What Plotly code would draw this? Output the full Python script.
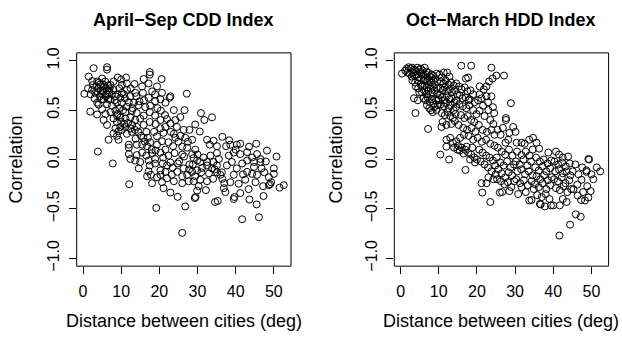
import plotly.graph_objects as go

# ---------------- data ----------------
cdd_points = [
(2.8,0.925),(6.3,0.935),(6.3,0.91),(1.5,0.84),(0.35,0.665),(1.9,0.485),(3.7,0.456),(3.9,0.08),(7.8,-0.04),(6.7,0.20),(12.1,-0.25),
(9.1,0.83),(11.3,0.83),(13.5,0.765),(15.9,0.815),(17.5,0.885),(17.5,0.86),(19.4,0.74),(20.6,0.815),(27.2,0.667),(26.6,0.50),(30.9,0.47),
(33.8,0.427),(31.8,0.40),(29.4,0.355),(23.8,0.50),(22.7,0.625),(30.6,0.283),
(19.2,-0.49),(26.8,-0.475),(26.0,-0.743),(24.8,-0.378),(22.9,-0.335),(21.1,-0.29),(29.3,-0.39),(29.5,-0.38),(32.2,-0.31),(34.6,-0.43),
(35.3,-0.42),(39.5,-0.40),(39.7,-0.38),(41.7,-0.605),(46.1,-0.585),(43.6,-0.405),(45.5,-0.455),(47.3,-0.37),(51.5,-0.285),(52.6,-0.26),
(50.7,0.03),(48.2,0.09),(45.4,0.16),(43.5,0.13),(41.2,0.16),(36.5,0.23),(34.2,0.19),(32.5,0.20),(38.3,0.195),(47.9,-0.02),(50.0,-0.145),
(48.7,-0.26),(49.0,-0.25),(47.2,-0.27),(45.2,-0.23),(43.4,-0.30),(41.2,-0.34),(37.3,-0.33),(36.9,-0.29),(38.6,-0.23),(40.8,-0.245),
(41.7,-0.04),(46.5,-0.025),(46.8,-0.09),(44.3,-0.145),(45.6,-0.155),(47.5,-0.13),
(38.2,0.04),(39.5,0.07),(40.0,0.10),(40.3,0.15),(37.5,0.135),(35.6,0.005),(34.2,-0.025),(32.5,-0.025),(31.6,0.02),(30.7,-0.025),
(33.8,-0.09),(35.1,-0.13),(36.4,-0.13),(34.1,-0.195),(36.5,-0.195),(37.0,-0.24),
(28.6,-0.125),(27.3,-0.155),(26.0,-0.17),(24.7,-0.125),(23.3,-0.155),(22.0,-0.19),(20.3,-0.11),(19.4,-0.18),(17.8,-0.155),(17.2,-0.12),
(16.8,-0.17),(14.6,-0.09),(15.0,-0.025),(17.2,-0.01),(17.5,-0.06),(18.9,-0.04),(20.9,-0.04),(22.9,-0.03),(24.8,-0.04),(26.4,-0.09),
(27.9,-0.05),(29.9,-0.01),(29.0,0.015),(28.6,0.055),(29.4,0.10),(27.3,0.12),(26.0,0.13),(27.5,0.18),(26.8,0.22),(25.5,0.24),(23.8,0.26),
(24.2,0.22),(22.4,0.175),(23.6,0.135),(24.0,0.065),(22.4,0.04),(21.6,0.10),(20.3,0.07),(18.9,0.005),(18.1,0.065),(16.6,0.04),(15.5,0.07),
(14.1,0.045),(13.7,-0.01),(12.4,0.005),(12.0,0.055),(12.0,0.12),(14.1,0.15),(15.5,0.15),(16.8,0.135),(17.6,0.175),(19.4,0.15),(20.7,0.185),
(19.4,0.235),(21.1,0.27),(20.3,0.315),(18.6,0.28),(16.6,0.28),(15.2,0.24),(13.8,0.21),(12.0,0.15),(9.3,0.20),(8.9,0.24),(10.2,0.30),
(11.5,0.26),(12.8,0.28),(14.1,0.33),(15.9,0.35),(17.5,0.38),(19.0,0.36),(20.3,0.40),(22.0,0.41),(22.9,0.365),(21.6,0.33),(24.6,0.33),
(25.5,0.43),(24.2,0.40),(20.4,0.495),(18.9,0.445),(17.5,0.48),(15.9,0.445),(16.3,0.53),(17.6,0.545),(18.9,0.59),(20.3,0.61),(21.6,0.575),
(22.9,0.64),(20.7,0.675),(18.9,0.66),(17.2,0.625),(15.7,0.675),(14.8,0.59),(13.3,0.575),(12.4,0.64),(13.7,0.675),(15.5,0.74),(17.2,0.77),
(18.1,0.69),(11.5,0.705),(10.2,0.675),(9.8,0.625),(10.2,0.575),(11.5,0.535),(12.8,0.495),(14.1,0.47),(15.0,0.415),(13.7,0.40),(12.4,0.425),
(11.1,0.415),(9.8,0.425),(8.9,0.38),(8.0,0.415),(7.2,0.48),(7.6,0.545),(8.5,0.495),(8.9,0.445),(11.1,0.48),(9.8,0.33),(11.1,0.33),
(12.4,0.315),(9.3,0.285),(8.5,0.315),(8.0,0.265),(5.4,0.40),(6.3,0.35),(5.9,0.46),(5.0,0.51),(4.1,0.555),(6.3,0.56),(6.7,0.61),(5.4,0.61),
(4.4,0.64),(3.2,0.675),(2.4,0.705),(3.5,0.74),(4.5,0.76),(5.8,0.79),(7.2,0.755),(8.0,0.705),(7.6,0.66),(8.5,0.64),(8.9,0.575),(8.0,0.79),
(5.0,0.82),(3.7,0.79),(2.4,0.795),(2.6,0.755),(3.8,0.69),(5.2,0.69),(6.3,0.66),(7.2,0.61),(4.8,0.61),(3.7,0.575),(10.2,0.755),(11.5,0.77),
(10.7,0.66),
(50.0,-0.09),(48.7,-0.18),(49.3,-0.23),(42.5,-0.205),(43.0,-0.125),(41.9,-0.15),(39.5,-0.155),(40.3,-0.09),(37.7,-0.06),(39.0,-0.025),
(43.0,-0.01),(44.3,0.02),(44.8,-0.075),(43.0,0.075),(41.2,0.055),(45.6,0.055),(46.5,0.005),(44.8,-0.025),(38.6,0.15),(35.1,0.135),
(33.2,0.15),(35.1,0.065),(33.4,0.04),(32.5,-0.06),(31.2,-0.085),(29.9,-0.11),(29.4,-0.17),(30.7,-0.205),(32.5,-0.22),(30.3,-0.27),
(29.0,-0.22),(27.7,-0.22),(26.0,-0.24),(23.8,-0.22),(20.7,-0.23),(18.1,-0.24),(20.3,-0.155),(21.6,-0.125),(29.9,-0.315),(36.0,-0.155),
(35.1,-0.06),(27.9,0.30),(28.6,0.20),(26.4,0.30),
(4.0,0.72),(4.6,0.70),(5.5,0.74),(6.0,0.72),(6.8,0.70),(5.0,0.66),(6.0,0.64),(6.9,0.68),(4.2,0.78),(5.3,0.76),(6.5,0.75),(7.0,0.72),
(8.3,0.60),(9.5,0.52),(10.5,0.50),(9.0,0.46),(10.0,0.38),(10.8,0.36),(11.8,0.37),(12.9,0.35),(13.6,0.30),(14.5,0.28),(15.8,0.22),
(16.2,0.18),(17.0,0.22),(18.0,0.10),(19.0,0.09),(21.0,0.02),(22.0,-0.06),(23.5,-0.08),(25.2,-0.02),(26.5,0.03),(27.8,-0.1),(28.8,-0.05),
(30.0,0.05),(31.0,-0.13),(33.0,-0.14),(34.5,-0.1),(9.5,0.72),(9.0,0.66),(12.0,0.58),(13.0,0.52),(14.5,0.55),(16.0,0.60),(19.5,0.52),
(21.5,0.45),(23.0,0.28),(25.0,0.18),(26.0,0.05),(10.0,0.81),(12.5,0.72),(14.0,0.64),(11.0,0.62),(3.0,0.62),(2.0,0.66),(1.3,0.72),
]

hdd_points = [
(0.35,0.87),(1.2,0.9),(1.6,0.92),(2.1,0.935),(2.6,0.92),(3.0,0.93),(3.4,0.91),(1.8,0.88),(2.4,0.87),(3.2,0.88),(3.9,0.9),(4.4,0.93),
(4.8,0.91),(2.9,0.84),(3.6,0.85),(4.2,0.86),(4.7,0.83),(3.1,0.8),(3.8,0.78),(4.5,0.8),(4.0,0.74),(4.6,0.72),(3.5,0.62),(4.5,0.6),
(3.9,0.47),(4.9,0.68),
(5.3,0.92),(5.8,0.9),(6.3,0.93),(6.8,0.89),(5.5,0.87),(6.1,0.85),(6.6,0.86),(7.2,0.88),(7.6,0.84),(8.1,0.86),(8.5,0.85),(9.4,0.87),
(5.4,0.82),(6.0,0.8),(6.5,0.81),(7.0,0.79),(7.5,0.81),(8.0,0.78),(8.6,0.8),(9.1,0.82),(9.6,0.79),(5.2,0.76),(5.7,0.74),(6.3,0.75),
(6.9,0.73),(7.4,0.76),(7.9,0.72),(8.4,0.74),(9.0,0.76),(9.5,0.72),(5.6,0.68),(6.2,0.7),(6.8,0.66),(7.3,0.69),(7.8,0.66),(8.3,0.68),
(8.9,0.7),(9.7,0.67),(6.0,0.62),(6.6,0.6),(7.1,0.63),(7.7,0.58),(8.2,0.61),(8.7,0.57),(9.3,0.6),(9.9,0.62),(6.9,0.55),(7.5,0.52),
(8.0,0.5),(8.8,0.53),(9.4,0.5),(9.8,0.55),(7.2,0.31),(8.4,0.48),
(10.2,0.86),(10.8,0.83),(11.3,0.88),(12.2,0.88),(12.8,0.84),(10.5,0.79),(11.2,0.77),(11.8,0.8),(12.5,0.76),(13.2,0.78),(13.9,0.75),
(14.6,0.77),(10.4,0.72),(11.0,0.7),(11.6,0.73),(12.2,0.69),(12.9,0.71),(13.5,0.68),(14.2,0.7),(14.8,0.66),(10.3,0.65),(10.9,0.63),
(11.5,0.6),(12.1,0.64),(12.8,0.61),(13.4,0.62),(14.1,0.58),(14.7,0.6),(10.6,0.56),(11.3,0.54),(11.9,0.57),(12.6,0.52),(13.2,0.55),
(13.9,0.5),(14.5,0.53),(10.8,0.47),(11.6,0.45),(12.3,0.48),(13.0,0.44),(13.7,0.42),(14.4,0.46),(11.0,0.38),(12.0,0.35),(13.3,0.36),
(14.2,0.39),(10.7,0.33),(12.0,0.2),(13.0,0.22),(13.7,0.17),(14.6,0.185),(14.0,0.12),(14.9,0.1),(10.4,0.05),(12.7,0.0),(10.0,0.6),
(12.0,0.13),
(15.9,0.95),(18.5,0.95),(17.7,0.83),(17.1,0.82),(15.3,0.74),(16.0,0.71),(16.8,0.73),(17.5,0.69),(18.3,0.7),(19.0,0.66),(15.5,0.65),
(16.2,0.62),(17.0,0.63),(17.8,0.6),(18.1,0.61),(19.4,0.58),(15.4,0.56),(16.3,0.54),(17.2,0.52),(18.0,0.55),(19.0,0.5),(19.9,0.46),
(15.8,0.45),(16.7,0.42),(17.6,0.44),(18.5,0.4),(19.3,0.38),(15.2,0.35),(16.4,0.32),(17.4,0.3),(18.6,0.32),(19.6,0.28),(15.6,0.22),
(16.6,0.25),(17.8,0.24),(19.0,0.2),(15.1,0.14),(16.0,0.12),(16.9,0.1),(17.7,0.07),(18.5,0.05),(19.3,0.02),(15.5,0.09),(16.5,0.06),
(17.3,0.13),(18.8,0.12),(19.5,-0.03),(17.0,-0.105),(18.2,0.0),
(23.8,0.93),(25.1,0.85),(24.1,0.82),(23.2,0.79),(22.5,0.74),(20.7,0.74),(21.8,0.71),(22.5,0.64),(20.7,0.66),(23.8,0.64),(22.9,0.58),
(21.6,0.545),(20.7,0.495),(24.2,0.53),(24.5,0.47),(20.3,0.6),(21.2,0.62),(23.0,0.5),(22.0,0.44),(23.5,0.4),(24.3,0.36),(20.5,0.35),
(21.5,0.3),(22.6,0.28),(23.8,0.3),(24.6,0.25),(20.2,0.22),(21.3,0.18),(22.4,0.2),(23.5,0.16),(24.6,0.14),(20.6,0.1),(21.5,0.07),
(22.4,0.04),(23.3,0.02),(24.2,-0.01),(20.0,0.0),(21.0,-0.02),(22.0,-0.05),(22.9,-0.08),(23.8,-0.12),(24.8,-0.06),(21.2,-0.24),
(22.5,-0.24),(21.4,-0.335),(23.5,-0.43),(23.0,-0.18),(24.3,-0.2),(24.9,-0.15),
(27.1,0.85),(28.9,0.57),(27.6,0.42),(27.6,0.4),(29.5,0.33),(30.1,0.28),(28.2,0.2),(27.5,0.17),(25.4,0.3),(26.2,0.25),(26.8,0.32),
(28.5,0.27),(25.5,0.12),(26.5,0.08),(27.4,0.05),(28.4,0.1),(29.3,0.04),(25.2,0.02),(26.1,-0.03),(27.0,-0.06),(27.9,-0.02),(28.8,-0.08),
(29.7,-0.05),(25.6,-0.1),(26.5,-0.14),(27.4,-0.18),(28.3,-0.13),(29.2,-0.16),(25.3,-0.2),(26.3,-0.22),(27.2,-0.25),(28.1,-0.23),
(29.0,-0.28),(29.8,-0.22),(26.0,-0.335),(26.6,-0.33),(28.5,-0.32),
(34.7,0.22),(33.7,0.2),(32.5,0.16),(31.7,0.17),(30.4,0.17),(35.6,0.17),(31.7,0.045),(30.5,0.08),(32.8,0.08),(33.8,0.04),(34.6,0.1),
(30.2,-0.02),(31.2,-0.05),(32.2,0.0),(33.2,-0.06),(34.2,-0.02),(30.6,-0.12),(31.6,-0.1),(32.6,-0.15),(33.6,-0.12),(34.6,-0.16),
(30.3,-0.2),(31.3,-0.24),(32.3,-0.21),(33.3,-0.26),(34.3,-0.22),(31.7,-0.28),(30.8,-0.35),(32.8,-0.33),(33.7,-0.415),(34.3,-0.41),
(34.9,-0.3),
(36.3,0.11),(38.7,0.07),(35.5,0.02),(36.5,-0.02),(37.5,0.0),(38.5,-0.04),(39.5,-0.01),(35.3,-0.08),(36.2,-0.11),(37.2,-0.07),
(38.2,-0.12),(39.2,-0.09),(35.6,-0.17),(36.6,-0.2),(37.6,-0.16),(38.6,-0.21),(39.6,-0.18),(35.2,-0.25),(36.2,-0.28),(37.2,-0.24),
(38.2,-0.3),(39.2,-0.26),(35.8,-0.36),(37.0,-0.38),(38.0,-0.35),(39.0,-0.4),(36.7,-0.455),(37.8,-0.475),(39.4,-0.465),(36.5,-0.45),
(40.7,0.08),(43.9,0.03),(41.5,0.05),(42.5,0.02),(40.3,-0.02),(41.3,-0.05),(42.3,-0.03),(43.3,-0.07),(44.3,-0.04),(40.5,-0.12),
(41.5,-0.1),(42.5,-0.14),(43.5,-0.12),(44.5,-0.16),(40.2,-0.2),(41.2,-0.22),(42.2,-0.18),(43.2,-0.24),(44.2,-0.21),(40.7,-0.29),
(41.7,-0.31),(42.7,-0.27),(43.7,-0.33),(44.7,-0.3),(40.0,-0.465),(41.7,-0.465),(42.5,-0.4),(43.5,-0.43),(41.6,-0.77),(44.4,-0.66),
(45.9,-0.555),(47.2,-0.58),(48.3,-0.415),(49.2,-0.385),(49.2,0.005),(48.7,-0.125),(49.4,0.0),(51.4,-0.08),(50.5,-0.2),(48.7,-0.11),
(48.9,-0.27),(47.8,-0.33),(47.4,-0.205),(46.3,-0.255),(46.4,-0.365),(47.3,-0.41),(45.1,-0.12),(45.8,-0.05),(46.6,-0.15),(47.6,-0.08),
(45.3,-0.3),(52.3,-0.12),(50.0,-0.15),(49.8,-0.32),
]

cdd_dist = [p[0] for p in cdd_points]
cdd_corr = [p[1] for p in cdd_points]
hdd_dist = [p[0] for p in hdd_points]
hdd_corr = [p[1] for p in hdd_points]

x_ticks = [0, 10, 20, 30, 40, 50]
y_ticks = [-1.0, -0.5, 0.0, 0.5, 1.0]
y_tick_labels = ["\u22121.0", "\u22120.5", "0.0", "0.5", "1.0"]
panel_titles = ["April\u2212Sep CDD Index", "Oct\u2212March HDD Index"]
x_title = "Distance between cities (deg)"
y_title = "Correlation"

# ---------------- figure ----------------
W, H = 622, 343
FONT = "Liberation Sans, Arial, Helvetica, sans-serif"
x_dom = [[76.7 / W, 291.0 / W], [394.3 / W, 608.6 / W]]
y_dom = [(H - 269.0) / H, (H - 49.3) / H]
x_rng = [-1.65, 54.5]
y_rng = [-1.08, 1.08]

fig = go.Figure()
for i, (xs, ys) in enumerate([(cdd_dist, cdd_corr), (hdd_dist, hdd_corr)]):
    sfx = "" if i == 0 else "2"
    fig.add_trace(go.Scatter(
        x=xs, y=ys, mode="markers", xaxis="x" + sfx, yaxis="y" + sfx,
        marker=dict(symbol="circle-open", size=7, color="black", line=dict(width=1, color="black")),
        showlegend=False, hoverinfo="skip"))

axis_common = dict(showgrid=False, zeroline=False, showline=False, ticks="outside",
                   ticklen=7, tickwidth=1, tickcolor="black",
                   tickfont=dict(family=FONT, size=16, color="black"))
for i in range(2):
    sfx = "" if i == 0 else "2"
    fig.update_layout(**{
        "xaxis" + sfx: dict(domain=x_dom[i], range=x_rng, anchor="y" + sfx,
                            tickmode="array", tickvals=x_ticks, ticklabelstandoff=4, **axis_common),
        "yaxis" + sfx: dict(domain=y_dom, range=y_rng, anchor="x" + sfx,
                            tickmode="array", tickvals=y_ticks, ticktext=y_tick_labels,
                            tickangle=-90, ticklabelstandoff=3, **axis_common),
    })
    ref = "x" if i == 0 else "x2"
    yref = "y" if i == 0 else "y2"
    fig.add_shape(type="rect", xref=ref + " domain", yref=yref + " domain",
                  x0=0, x1=1, y0=0, y1=1, line=dict(color="black", width=1))
    cx = (x_dom[i][0] + x_dom[i][1]) / 2
    fig.add_annotation(text="<b>" + panel_titles[i] + "</b>", xref="paper", yref="paper",
                       x=cx, y=1 - 15 / H, showarrow=False,
                       font=dict(family=FONT, size=18, color="black"),
                       xanchor="center", yanchor="middle")
    fig.add_annotation(text=x_title, xref="paper", yref="paper",
                       x=cx, y=1 - 325 / H, showarrow=False,
                       font=dict(family=FONT, size=18, color="black"),
                       xanchor="center", yanchor="middle")
    fig.add_annotation(text=y_title, xref="paper", yref="paper",
                       x=(16 if i == 0 else 336) / W, y=(y_dom[0] + y_dom[1]) / 2,
                       textangle=-90, showarrow=False,
                       font=dict(family=FONT, size=18, color="black"),
                       xanchor="center", yanchor="middle")

fig.update_layout(width=W, height=H, margin=dict(l=0, r=0, t=0, b=0),
                  plot_bgcolor="white", paper_bgcolor="white")
fig.write_html("out.html", config={"displayModeBar": False},
               post_script="document.body.style.margin='0px';document.body.style.padding='0px';")
